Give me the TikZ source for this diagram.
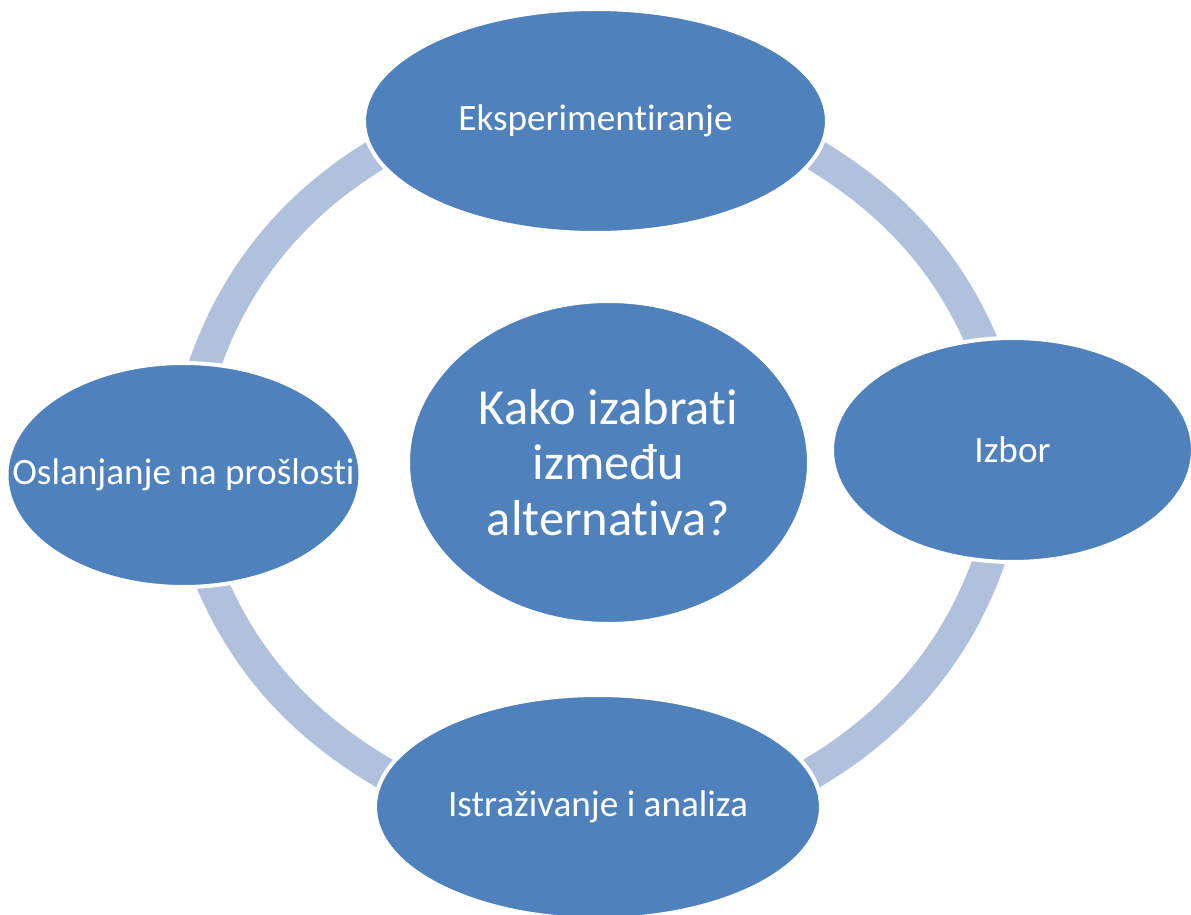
\documentclass[tikz,border=0pt]{standalone}
\usepackage{fontspec}
\setmainfont{Carlito}[Ligatures={NoCommon}]
\usetikzlibrary{shapes.geometric, backgrounds}
\definecolor{krug}{RGB}{79,129,189}
\definecolor{prsten}{RGB}{176,193,222}

\begin{document}
\begin{tikzpicture}[x=1pt, y=1pt,
	faza/.style={shape=ellipse, fill=krug, draw=white, line width=4pt, inner sep=0pt},
	oznaka/.style={text=white, font=\fontsize{37.2}{44}\selectfont},
	luk/.style={draw=prsten, line width=32pt, looseness=0.87, shorten <=-14pt, shorten >=-14pt}]

		\useasboundingbox (0,0) rectangle (1191,-915);

		\node[faza, minimum width=401pt, minimum height=323pt, align=center, text=white, font=\fontsize{50.5}{55.5}\selectfont] (pitanje) at (608.5,-462.5) {Kako izabrati\\između\\alternativa?};
		\node[faza, minimum width=463pt, minimum height=224pt, label={[oznaka]center:Eksperimentiranje}] (eksperiment) at (595.5,-121) {};
		\node[faza, minimum width=361pt, minimum height=224pt, label={[oznaka]center:Izbor}] (izbor) at (1012.5,-450) {};
		\node[faza, minimum width=446pt, minimum height=224pt, label={[oznaka]center:Istraživanje i analiza}] (istrazivanje) at (598,-807) {};
		\node[faza, minimum width=354pt, minimum height=224pt, label={[oznaka]center:Oslanjanje na prošlosti}] (oslanjanje) at (183.5,-475) {};

		\begin{scope}[on background layer]
			\draw[luk] (eksperiment.-9) to[out=-30, in=112] (izbor.106);
			\draw[luk] (izbor.258) to[out=252, in=29] (istrazivanje.9);
			\draw[luk] (istrazivanje.171) to[out=151, in=-68] (oslanjanje.-75);
			\draw[luk] (oslanjanje.79) to[out=72, in=210] (eksperiment.189.5);
		\end{scope}
	\end{tikzpicture}
\end{document}
